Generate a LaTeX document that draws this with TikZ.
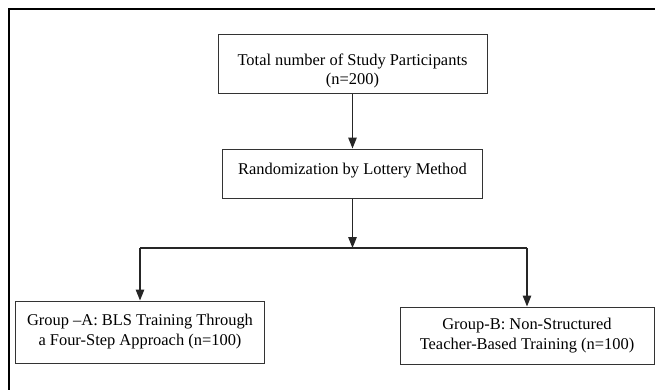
\documentclass[tikz,border=0pt]{standalone}
\usepackage{fontspec}
\setmainfont{Liberation Serif}
\usetikzlibrary{arrows.meta}
\begin{document}
\begin{tikzpicture}[x=1bp,y=-1bp,
  box/.style={draw=black!80, line width=1bp, align=center, inner sep=0pt, font=\fontsize{16.5}{20}\selectfont},
  txt/.style={align=center, inner sep=0pt, font=\fontsize{16.5}{19}\selectfont},
  conn/.style={draw=black!85, line width=1.2bp},
  arr/.style={conn, -{Triangle[width=8.5bp,length=11bp]}}]
\useasboundingbox (0,0) rectangle (655,389);
\begin{scope}
\clip (0,0) rectangle (655,389);
\draw[line width=2.2bp] (9,430) -- (9,9) -- (720,9);
\end{scope}
\node[box, minimum width=269bp, minimum height=59bp] (top) at (352.5,63.5) {};
\node[txt] (toptxt) at (352.5,71) {Total number of Study Participants\\(n=200)};
\node[box, minimum width=260bp, minimum height=49bp] (rand) at (352.5,173.5) {};
\node[txt] (randtxt) at (352.5,170.5) {Randomization by Lottery Method};
\node[box, minimum width=248bp, minimum height=62bp] (ga) at (140,332) {Group –A: BLS Training Through\\a Four-Step Approach (n=100)};
\node[box, minimum width=254bp, minimum height=57bp] (gb) at (527,335.5) {Group-B: Non-Structured\\Teacher-Based Training (n=100)};
\coordinate (br) at (352.5,248);
\coordinate (bl) at (ga.north |- br);
\coordinate (brr) at (gb.north |- br);
\draw[arr] (top.south) -- (rand.north);
\draw[arr] (rand.south) -- (br);
\draw[conn] (bl) -- (brr);
\draw[arr] (bl) -- (ga.north);
\draw[arr] (brr) -- (gb.north);
\end{tikzpicture}
\end{document}
